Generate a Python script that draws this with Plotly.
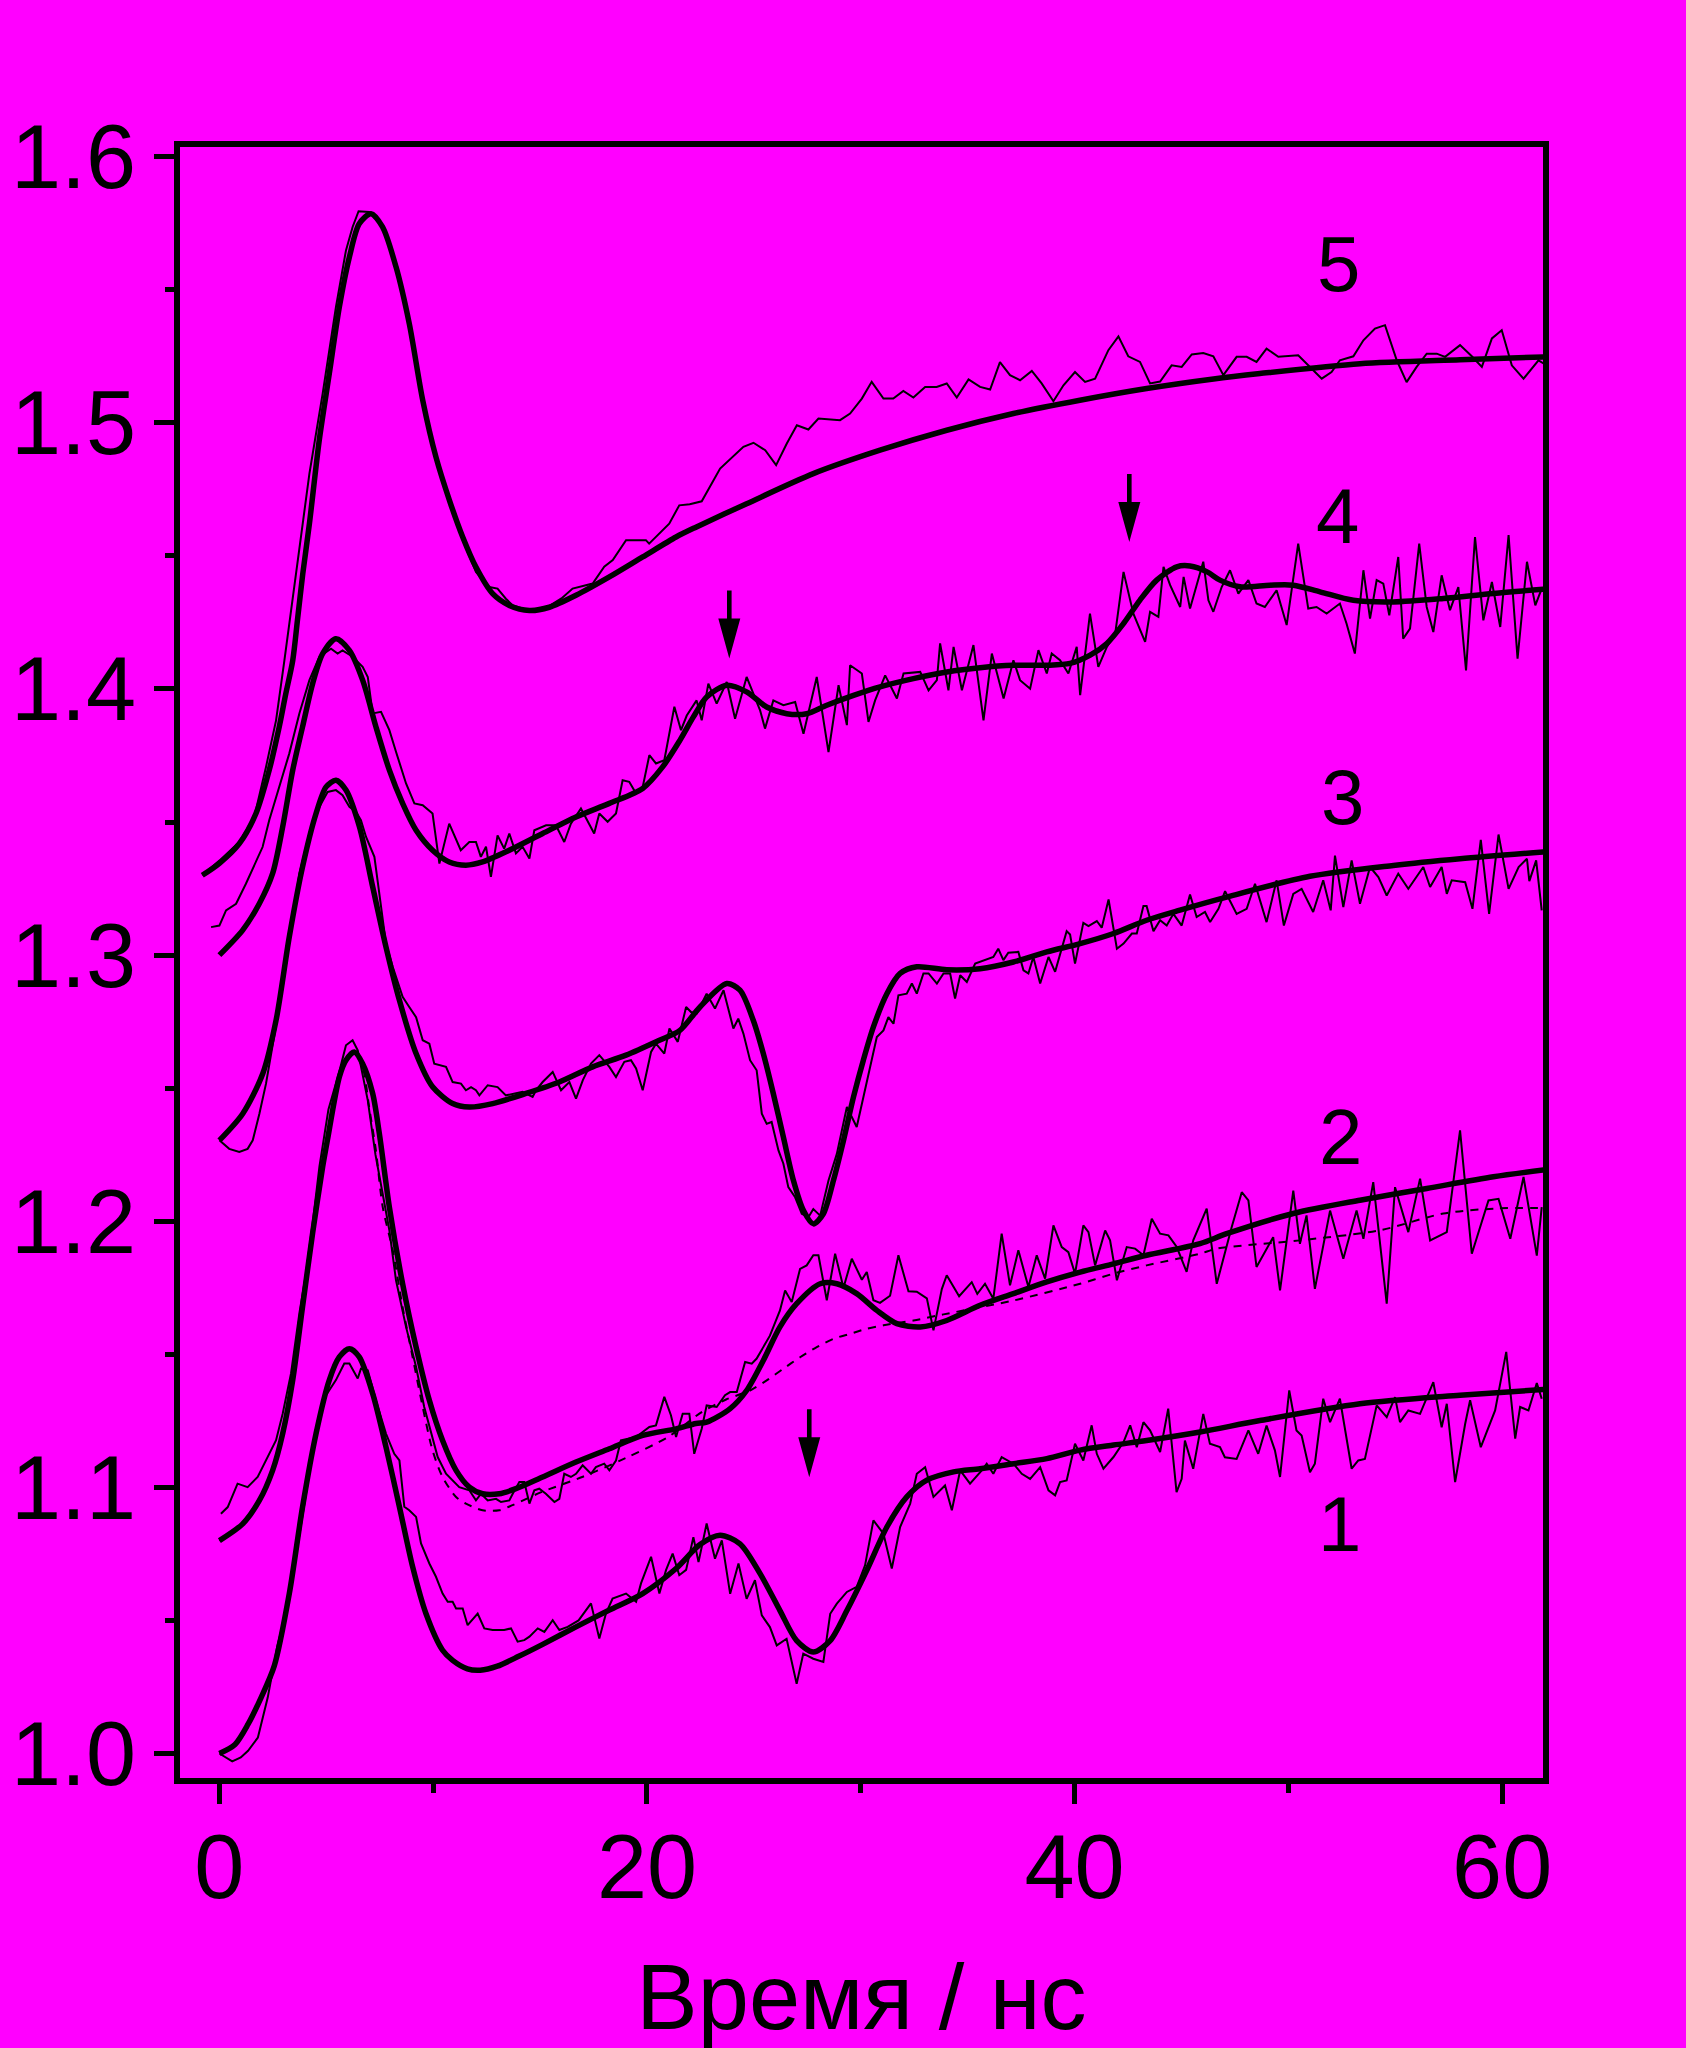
import plotly.graph_objects as go

# ---------------- data ----------------
# curve 5
c5_fit_x = [-0.8, 0.0, 0.93, 1.71, 2.33, 2.80, 3.10, 3.43, 3.65, 3.90, 4.21, 4.67, 5.14, 5.61, 6.08, 6.54, 7.09, 7.63, 8.26, 8.88,
            9.51, 10.13, 10.76, 11.38, 12.00, 12.78, 13.56, 14.50, 15.43, 16.68, 18.24, 19.80, 21.36, 22.29, 24.66, 27.78,
            30.90, 34.02, 37.14, 40.25, 43.37, 46.50, 48.67, 53.35, 58.03, 62.0]
c5_fit_y = [1.330, 1.3345, 1.3419, 1.3532, 1.3695, 1.3858, 1.3980, 1.4107, 1.4258, 1.4433, 1.4621, 1.4934, 1.5185, 1.5435,
            1.5623, 1.5748, 1.5786, 1.5736, 1.5586, 1.5373, 1.5085, 1.4871, 1.4709, 1.4571, 1.4458, 1.4358, 1.4314, 1.4295,
            1.4307, 1.4352, 1.4421, 1.4496, 1.4571, 1.4608, 1.4696, 1.4809, 1.4897, 1.4972, 1.5035, 1.5085, 1.5129, 1.5165,
            1.5185, 1.5222, 1.5237, 1.5248]
c5_dat_x = [-0.8, 0.0, 0.93, 1.63, 2.18, 2.65, 3.04, 3.58, 4.21, 4.83, 5.45, 5.92, 6.23, 6.51, 7.00, 7.63, 8.26, 8.88, 9.51,
            10.13, 10.76, 11.38, 12.00, 12.62, 13.01, 13.40, 13.72, 14.50, 15.40, 16.00, 16.52, 17.46, 18.00, 18.40, 19.02,
            19.95, 20.10, 21.04, 21.51, 22.00, 22.56, 23.42, 24.51, 24.98, 25.53, 26.04, 26.54, 27.01, 27.55, 28.02, 29.03,
            29.50, 30.05, 30.51, 31.06, 31.52, 31.99, 32.46, 33.01, 33.55, 34.02, 34.49, 35.04, 35.58, 36.05, 36.51, 36.98,
            37.45, 38.00, 38.46, 39.01, 39.48, 40.02, 40.49, 40.96, 41.58, 42.05, 42.51, 43.06, 43.53, 44.00, 44.54, 45.01,
            45.48, 46.02, 46.49, 46.96, 47.58, 48.05, 48.51, 48.98, 49.53, 50.46, 51.01, 51.56, 52.02, 52.41, 53.04, 53.51,
            54.05, 54.52, 55.07, 55.53, 56.00, 56.47, 56.94, 57.33, 58.03, 58.58, 59.05, 59.52, 59.98, 60.45, 61.00, 61.70,
            62.0]
c5_dat_y = [1.330, 1.3355, 1.3425, 1.3519, 1.3707, 1.3882, 1.4107, 1.4433, 1.4809, 1.5110, 1.5435, 1.5648, 1.5736, 1.5795,
            1.5792, 1.5740, 1.5590, 1.5380, 1.5090, 1.4880, 1.4700, 1.4560, 1.4440, 1.4383, 1.4377, 1.4339, 1.4314, 1.4295,
            1.4310, 1.4340, 1.4377, 1.4396, 1.4459, 1.4484, 1.4559, 1.4559, 1.4546, 1.4621, 1.4690, 1.4694, 1.4705, 1.4828,
            1.4910, 1.4925, 1.4897, 1.4841, 1.4922, 1.4991, 1.4975, 1.5016, 1.5010, 1.5035, 1.5091, 1.5154, 1.5091, 1.5091,
            1.5120, 1.5095, 1.5135, 1.5135, 1.5148, 1.5095, 1.5163, 1.5135, 1.5125, 1.5228, 1.5179, 1.5160, 1.5195, 1.5148,
            1.5081, 1.5141, 1.5191, 1.5154, 1.5166, 1.5273, 1.5325, 1.5250, 1.5229, 1.5148, 1.5155, 1.5216, 1.5210, 1.5257,
            1.5262, 1.5250, 1.5179, 1.5248, 1.5248, 1.5229, 1.5279, 1.5248, 1.5254, 1.5210, 1.5166, 1.5191, 1.5235, 1.5250,
            1.5310, 1.5354, 1.5367, 1.5235, 1.5153, 1.5210, 1.5260, 1.5260, 1.5248, 1.5292, 1.5250, 1.5210, 1.5317, 1.5348,
            1.5216, 1.5166, 1.5235, 1.5220]

# curve 4
c4_fit_x = [0.0, 1.09, 1.87, 2.49, 2.96, 3.43, 3.89, 4.36, 4.83, 5.45, 6.08, 6.70, 7.32, 7.95, 8.57, 9.20, 9.97, 10.75, 11.53,
            12.31, 13.56, 15.12, 16.68, 18.24, 19.80, 20.73, 21.54, 22.17, 22.79, 23.73, 24.66, 25.60, 26.54, 27.47, 28.41,
            29.66, 30.90, 32.46, 34.02, 35.58, 37.14, 38.70, 39.79, 40.73, 41.51, 42.29, 43.06, 43.84, 44.78, 45.40, 46.20,
            46.80, 47.74, 49.14, 50.23, 51.48, 53.04, 54.91, 57.25, 59.59, 62.0]
c4_fit_y = [1.300, 1.3094, 1.3194, 1.3307, 1.3482, 1.3695, 1.3858, 1.4020, 1.4133, 1.4189, 1.4145, 1.4033, 1.3858, 1.3695,
            1.3570, 1.3469, 1.3394, 1.3350, 1.3338, 1.3350, 1.3394, 1.3457, 1.3519, 1.3570, 1.3626, 1.3707, 1.3807, 1.3895,
            1.3970, 1.4014, 1.3989, 1.3932, 1.3907, 1.3907, 1.3939, 1.3976, 1.4008, 1.4039, 1.4064, 1.4080, 1.4089, 1.4089,
            1.4096, 1.4127, 1.4171, 1.4246, 1.4334, 1.4409, 1.4459, 1.4462, 1.4440, 1.4409, 1.4384, 1.4390, 1.4390, 1.4365,
            1.4333, 1.4327, 1.4340, 1.4359, 1.4375]
c4_dat_x = [-0.39, 0.0, 0.31, 0.78, 1.24, 1.63, 2.02, 2.33, 2.80, 3.27, 3.74, 4.21, 4.68, 5.22, 5.53, 5.76, 6.23, 6.70, 6.94,
            7.17, 7.56, 7.95, 8.26, 8.73, 9.12, 9.51, 9.97, 10.29, 10.75, 11.29, 11.69, 12.00, 12.23, 12.47, 12.70, 13.01,
            13.32, 13.56, 13.87, 14.18, 14.50, 14.73, 15.28, 15.74, 16.13, 16.44, 16.91, 17.53, 17.77, 18.16, 18.55, 18.86,
            19.17, 19.49, 19.80, 20.11, 20.42, 20.81, 21.28, 21.59, 21.86, 22.32, 22.56, 22.87, 23.26, 23.73, 24.12, 24.66,
            25.29, 25.52, 25.91, 26.38, 26.93, 27.32, 27.94, 28.49, 28.96, 29.35, 29.50, 30.05, 30.36, 30.67, 31.14, 31.69,
            32.00, 32.78, 33.17, 33.56, 33.71, 34.10, 34.34, 34.73, 35.27, 35.74, 36.13, 36.68, 37.14, 37.45, 37.92, 38.31,
            38.70, 38.93, 39.32, 39.71, 40.10, 40.26, 40.72, 41.11, 41.51, 41.90, 42.29, 42.75, 43.30, 43.53, 43.92, 44.16,
            44.47, 44.94, 45.10, 45.40, 46.02, 46.26, 46.49, 46.88, 47.27, 47.66, 48.13, 48.51, 48.90, 49.45, 49.92, 50.46,
            50.93, 51.32, 51.79, 52.41, 52.72, 53.11, 53.51, 53.82, 54.13, 54.44, 54.72, 55.14, 55.37, 55.69, 56.12, 56.47,
            56.78, 57.17, 57.56, 57.95, 58.31, 58.73, 59.12, 59.52, 59.91, 60.30, 60.72, 61.16, 61.55, 61.85]
c4_dat_y = [1.3105, 1.3111, 1.3168, 1.3193, 1.3268, 1.3337, 1.3406, 1.3507, 1.3632, 1.3758, 1.3908, 1.4033, 1.4121, 1.4151,
            1.4133, 1.4145, 1.4121, 1.4083, 1.4045, 1.3908, 1.3914, 1.3845, 1.3764, 1.3645, 1.3570, 1.3563, 1.3532, 1.3344,
            1.3494, 1.3394, 1.3425, 1.3425, 1.3369, 1.3407, 1.3294, 1.3450, 1.3400, 1.3457, 1.3382, 1.3407, 1.3363, 1.3469,
            1.3488, 1.3488, 1.3425, 1.3494, 1.3551, 1.3457, 1.3532, 1.3501, 1.3532, 1.3657, 1.3651, 1.3607, 1.3632, 1.3751,
            1.3720, 1.3732, 1.3933, 1.3845, 1.3900, 1.3957, 1.3882, 1.4020, 1.3945, 1.4026, 1.3888, 1.4045, 1.3920, 1.3851,
            1.3957, 1.3939, 1.3951, 1.3832, 1.4045, 1.3763, 1.4014, 1.3864, 1.4089, 1.4058, 1.3876, 1.3957, 1.4051, 1.3964,
            1.4058, 1.4064, 1.3995, 1.4033, 1.4171, 1.3995, 1.4158, 1.3995, 1.4165, 1.3882, 1.4133, 1.3964, 1.4108, 1.4033,
            1.4001, 1.4146, 1.4058, 1.4133, 1.4108, 1.4058, 1.4158, 1.3977, 1.4283, 1.4083, 1.4158, 1.4208, 1.4440, 1.4283,
            1.4177, 1.4290, 1.4271, 1.4459, 1.4390, 1.4308, 1.4421, 1.4302, 1.4478, 1.4333, 1.4290, 1.4383, 1.4446, 1.4358,
            1.4409, 1.4321, 1.4308, 1.4371, 1.4240, 1.4546, 1.4302, 1.4308, 1.4283, 1.4321, 1.4246, 1.4133, 1.4446, 1.4264,
            1.4409, 1.4396, 1.4277, 1.4496, 1.4189, 1.4227, 1.4546, 1.4308, 1.4214, 1.4427, 1.4296, 1.4383, 1.4070, 1.4571,
            1.4258, 1.4402, 1.4233, 1.4578, 1.4114, 1.4478, 1.4314, 1.4377]

# curve 3
c3_fit_x = [0.0, 1.09, 2.03, 2.65, 3.27, 3.89, 4.52, 4.99, 5.45, 5.92, 6.55, 7.17, 7.79, 8.42, 9.20, 9.97, 10.91, 11.69, 12.78,
            14.34, 15.90, 17.46, 19.02, 20.58, 21.54, 22.48, 23.73, 24.35, 24.97, 25.44, 25.91, 26.38, 26.85, 27.32, 27.78,
            28.25, 28.72, 29.19, 29.66, 30.12, 30.59, 31.22, 31.84, 32.62, 34.02, 35.58, 37.14, 38.70, 40.26, 41.82, 43.37,
            44.93, 47.11, 51.01, 54.91, 58.03, 62.0]
c3_fit_y = [1.2304, 1.2404, 1.2555, 1.2755, 1.3069, 1.3332, 1.3532, 1.3632, 1.3657, 1.3620, 1.3482, 1.3256, 1.3031, 1.2830,
            1.2630, 1.2505, 1.2442, 1.2429, 1.2442, 1.2480, 1.2523, 1.2580, 1.2624, 1.2680, 1.2717, 1.2805, 1.2893, 1.2868,
            1.2755, 1.2630, 1.2479, 1.2316, 1.2153, 1.2040, 1.1990, 1.2028, 1.2153, 1.2303, 1.2467, 1.2605, 1.2730, 1.2855,
            1.2931, 1.2956, 1.2945, 1.2949, 1.2974, 1.3012, 1.3043, 1.3081, 1.3131, 1.3169, 1.3218, 1.3296, 1.3337, 1.3362,
            1.3388]
c3_dat_x = [0.0, 0.46, 0.93, 1.32, 1.56, 1.87, 2.18, 2.49, 2.96, 3.35, 3.74, 4.21, 4.68, 5.06, 5.45, 5.76, 6.08, 6.39, 6.62,
            6.86, 7.25, 7.48, 7.79, 8.11, 8.57, 8.88, 9.20, 9.51, 9.82, 10.05, 10.60, 10.91, 11.30, 11.53, 11.77, 12.00,
            12.16, 12.55, 13.01, 13.40, 13.87, 14.18, 14.65, 14.81, 15.12, 15.59, 15.98, 16.37, 16.68, 17.00, 17.38, 17.77,
            18.24, 18.55, 18.94, 19.25, 19.49, 19.80, 20.19, 20.42, 20.81, 21.05, 21.44, 21.83, 22.06, 22.32, 22.79, 23.18,
            23.58, 24.04, 24.27, 24.51, 24.82, 25.13, 25.37, 25.60, 25.83, 26.15, 26.38, 26.61, 26.93, 27.24, 27.55, 27.78,
            28.10, 28.49, 28.88, 29.35, 29.81, 30.28, 30.75, 31.06, 31.29, 31.53, 31.76, 32.15, 32.39, 32.62, 32.93, 33.17,
            33.56, 33.87, 34.18, 34.41, 34.65, 34.96, 35.35, 36.20, 36.43, 36.67, 36.90, 37.37, 37.61, 37.84, 38.07, 38.39,
            38.78, 39.09, 39.32, 39.63, 39.79, 40.02, 40.41, 40.65, 41.04, 41.27, 41.59, 41.98, 42.29, 42.68, 42.91, 43.22,
            43.37, 43.69, 44.00, 44.31, 44.62, 45.01, 45.40, 45.71, 46.10, 46.34, 46.73, 47.04, 47.58, 48.05, 48.44, 48.98,
            49.45, 49.79, 50.23, 50.62, 51.16, 51.63, 51.98, 52.18, 52.57, 52.96, 53.35, 53.82, 54.21, 54.60, 55.14, 55.61,
            56.31, 56.63, 57.17, 57.41, 57.64, 58.27, 58.61, 59.00, 59.39, 59.83, 60.30, 60.77, 61.16, 61.27, 61.59, 61.85]
c3_dat_y = [1.2304, 1.2272, 1.2260, 1.2272, 1.2304, 1.2404, 1.2517, 1.2655, 1.2880, 1.3093, 1.3306, 1.3457, 1.3557, 1.3613,
            1.3620, 1.3601, 1.3557, 1.3538, 1.3507, 1.3444, 1.3369, 1.3231, 1.3043, 1.2955, 1.2843, 1.2805, 1.2767, 1.2680,
            1.2667, 1.2592, 1.2580, 1.2523, 1.2517, 1.2492, 1.2504, 1.2492, 1.2473, 1.2511, 1.2504, 1.2473, 1.2480, 1.2486,
            1.2467, 1.2492, 1.2523, 1.2561, 1.2492, 1.2523, 1.2461, 1.2530, 1.2592, 1.2624, 1.2580, 1.2542, 1.2599, 1.2605,
            1.2574, 1.2492, 1.2636, 1.2667, 1.2630, 1.2724, 1.2674, 1.2805, 1.2786, 1.2780, 1.2855, 1.2799, 1.2868, 1.2724,
            1.2761, 1.2705, 1.2605, 1.2567, 1.2404, 1.2366, 1.2373, 1.2266, 1.2216, 1.2128, 1.2090, 1.2028, 1.2015, 1.2046,
            1.2021, 1.2153, 1.2253, 1.2429, 1.2354, 1.2529, 1.2692, 1.2717, 1.2767, 1.2742, 1.2849, 1.2855, 1.2893, 1.2855,
            1.2931, 1.2931, 1.2893, 1.2931, 1.2931, 1.2837, 1.2924, 1.2899, 1.2968, 1.2993, 1.3024, 1.2981, 1.3009, 1.3012,
            1.2943, 1.2931, 1.2993, 1.2893, 1.2993, 1.2937, 1.3006, 1.3090, 1.3077, 1.2968, 1.3121, 1.3109, 1.3128, 1.3103,
            1.3209, 1.3024, 1.3043, 1.3081, 1.3081, 1.3184, 1.3184, 1.3090, 1.3131, 1.3111, 1.3155, 1.3111, 1.3228, 1.3143,
            1.3162, 1.3124, 1.3174, 1.3240, 1.3155, 1.3174, 1.3268, 1.3124, 1.3281, 1.3111, 1.3230, 1.3249, 1.3162, 1.3281,
            1.3168, 1.3374, 1.3180, 1.3356, 1.3193, 1.3331, 1.3293, 1.3224, 1.3306, 1.3249, 1.3331, 1.3256, 1.3331, 1.3230,
            1.3281, 1.3274, 1.3174, 1.3433, 1.3155, 1.3453, 1.3249, 1.3331, 1.3362, 1.3278, 1.3356, 1.3168]

# curve 2
c2_fit_x = [0.0, 1.09, 1.87, 2.49, 2.96, 3.43, 3.89, 4.36, 4.83, 5.05, 5.61, 5.92, 6.31, 6.70, 7.17, 7.48, 7.95, 8.57, 9.20,
            9.82, 10.44, 11.07, 11.69, 12.31, 13.09, 13.87, 15.12, 16.68, 18.24, 19.80, 21.36, 22.29, 22.79, 23.89, 24.66,
            25.44, 26.22, 27.00, 28.10, 28.88, 29.81, 30.75, 31.69, 32.78, 34.02, 35.58, 37.14, 38.70, 40.26, 41.82, 43.37,
            45.87, 47.11, 50.23, 53.35, 56.47, 59.59, 62.0]
c2_fit_y = [1.0800, 1.0863, 1.0951, 1.1064, 1.1202, 1.1403, 1.1679, 1.1955, 1.2204, 1.2304, 1.2542, 1.2605, 1.2636, 1.2592,
            1.2480, 1.2330, 1.2053, 1.1765, 1.1527, 1.1327, 1.1176, 1.1064, 1.1001, 1.0976, 1.0976, 1.0995, 1.1039, 1.1095,
            1.1145, 1.1195, 1.1220, 1.1240, 1.1245, 1.1296, 1.1364, 1.1477, 1.1603, 1.1690, 1.1765, 1.1765, 1.1728, 1.1665,
            1.1615, 1.1603, 1.1627, 1.1684, 1.1728, 1.1772, 1.1809, 1.1840, 1.1872, 1.1916, 1.1953, 1.2029, 1.2079, 1.2123,
            1.2167, 1.2193]
c2_alt_x = [0.0, 1.09, 1.87, 2.49, 2.96, 3.43, 3.89, 4.36, 4.83, 5.05, 5.61, 5.92, 6.31, 6.70, 7.00, 7.32, 7.64, 8.11, 8.57,
            9.04, 9.51, 9.97, 10.44, 11.07, 11.53, 12.31, 13.09, 13.71, 15.0, 17.0, 19.0, 21.0, 22.56, 23.70, 24.82, 25.60,
            26.38, 27.16, 27.94, 28.72, 29.50, 30.28, 31.06, 32.46, 33.87, 37.14, 40.26, 41.82, 43.37, 45.87, 46.65, 50.54,
            54.28, 57.25, 59.75, 62.0]
c2_alt_y = [1.0800, 1.0863, 1.0951, 1.1064, 1.1202, 1.1403, 1.1679, 1.1955, 1.2204, 1.2304, 1.2542, 1.2605, 1.2636, 1.2580,
            1.2430, 1.2266, 1.2053, 1.1890, 1.1677, 1.1489, 1.1302, 1.1139, 1.1039, 1.0964, 1.0939, 1.0914, 1.0914, 1.0933,
            1.0980, 1.1040, 1.1110, 1.1190, 1.1283, 1.1330, 1.1364, 1.1402, 1.1446, 1.1489, 1.1527, 1.1558, 1.1577, 1.1596,
            1.1609, 1.1627, 1.1650, 1.1702, 1.1765, 1.1803, 1.1834, 1.1878, 1.1897, 1.1928, 1.1966, 1.2029, 1.2048, 1.2050]
c2_dat_x = [0.07, 0.39, 0.85, 1.32, 1.79, 2.18, 2.65, 2.96, 3.35, 3.74, 4.05, 4.36, 4.68, 5.10, 5.60, 5.92, 6.23, 6.47, 6.94,
            7.30, 7.95, 8.26, 8.73, 9.20, 9.58, 10.21, 10.60, 11.22, 11.69, 12.00, 12.24, 12.55, 12.94, 13.17, 13.56, 13.72,
            14.03, 14.26, 14.50, 14.73, 14.96, 15.27, 15.67, 15.90, 16.13, 16.44, 16.68, 16.99, 17.38, 17.61, 18.00, 18.24,
            18.55, 18.78, 19.10, 19.49, 20.11, 20.42, 20.81, 21.12, 21.36, 21.67, 21.98, 22.21, 22.56, 22.79, 23.26, 23.65,
            23.89, 24.20, 24.59, 24.90, 25.13, 25.75, 26.22, 26.46, 26.77, 27.16, 27.47, 27.78, 28.02, 28.41, 28.80, 29.19,
            29.58, 30.05, 30.28, 30.59, 30.90, 31.37, 31.76, 32.23, 32.62, 33.09, 33.40, 33.79, 34.02, 34.60, 35.19, 35.45,
            35.81, 36.20, 36.59, 36.98, 37.37, 37.84, 38.23, 38.62, 39.01, 39.40, 39.71, 40.02, 40.41, 40.65, 40.96, 41.43,
            41.66, 41.98, 42.44, 42.83, 43.22, 43.61, 44.00, 44.39, 44.78, 45.24, 45.55, 46.18, 46.65, 47.35, 47.82, 48.13,
            48.51, 49.29, 49.61, 50.23, 50.54, 50.85, 51.24, 51.95, 52.57, 53.19, 53.51, 53.97, 54.60, 54.99, 55.61, 56.16,
            56.63, 57.41, 58.03, 58.58, 59.36, 59.83, 60.38, 61.00, 61.62, 61.85]
c2_dat_y = [1.0901, 1.0926, 1.1014, 1.1001, 1.1039, 1.1102, 1.1177, 1.1277, 1.1428, 1.1654, 1.1804, 1.1992, 1.2206, 1.2420,
            1.2560, 1.2661, 1.2680, 1.2642, 1.2454, 1.2250, 1.1966, 1.1778, 1.1603, 1.1452, 1.1302, 1.1114, 1.1051, 1.1001,
            1.0989, 1.0951, 1.0976, 1.0951, 1.0957, 1.0945, 1.0951, 1.0976, 1.1020, 1.1020, 1.0939, 1.0989, 1.0995, 1.0976,
            1.0945, 1.0957, 1.1051, 1.1039, 1.1051, 1.1083, 1.1051, 1.1076, 1.1089, 1.1064, 1.1101, 1.1177, 1.1183, 1.1189,
            1.1227, 1.1233, 1.1340, 1.1271, 1.1189, 1.1277, 1.1277, 1.1126, 1.1220, 1.1308, 1.1302, 1.1346, 1.1358, 1.1358,
            1.1471, 1.1465, 1.1484, 1.1570, 1.1665, 1.1740, 1.1696, 1.1821, 1.1834, 1.1872, 1.1872, 1.1703, 1.1878, 1.1750,
            1.1859, 1.1780, 1.1809, 1.1703, 1.1693, 1.1720, 1.1872, 1.1737, 1.1735, 1.1710, 1.1590, 1.1745, 1.1797, 1.1718,
            1.1771, 1.1727, 1.1765, 1.1709, 1.1953, 1.1759, 1.1891, 1.1753, 1.1872, 1.1784, 1.1984, 1.1903, 1.1884, 1.1803,
            1.1984, 1.1959, 1.1834, 1.1965, 1.1928, 1.1778, 1.1903, 1.1897, 1.1872, 1.2009, 1.1953, 1.1947, 1.1903, 1.1810,
            1.1928, 1.2047, 1.1765, 1.1978, 1.2109, 1.2078, 1.1828, 1.1940, 1.1740, 1.2115, 1.1915, 1.2022, 1.1746, 1.2040,
            1.1859, 1.2040, 1.1934, 1.2147, 1.1690, 1.2128, 1.1959, 1.2160, 1.1928, 1.1959, 1.2341, 1.1878, 1.2078, 1.2084,
            1.1934, 1.2166, 1.1871, 1.2053]

# curve 1
c1_fit_x = [0.0, 0.73, 1.34, 1.95, 2.57, 3.27, 3.89, 4.52, 5.14, 5.61, 6.08, 6.54, 7.17, 7.79, 8.42, 9.04, 9.66, 10.44, 10.91,
            11.60, 12.20, 13.00, 14.00, 15.12, 16.68, 18.24, 19.80, 21.36, 22.48, 23.42, 24.35, 25.29, 26.22, 27.00, 27.78,
            28.57, 29.35, 30.28, 31.22, 32.15, 33.09, 34.34, 35.58, 37.14, 38.70, 40.26, 41.82, 43.37, 45.87, 48.67, 53.35,
            58.03, 62.0]
c1_fit_y = [1.0000, 1.0034, 1.0110, 1.0210, 1.0330, 1.0601, 1.0927, 1.1202, 1.1403, 1.1490, 1.1521, 1.1490, 1.1352, 1.1152,
            1.0927, 1.0701, 1.0526, 1.0388, 1.0350, 1.0318, 1.0313, 1.0328, 1.0365, 1.0410, 1.0476, 1.0539, 1.0601, 1.0695,
            1.0785, 1.0820, 1.0788, 1.0676, 1.0537, 1.0424, 1.0381, 1.0424, 1.0537, 1.0688, 1.0851, 1.0964, 1.1027, 1.1058,
            1.1070, 1.1089, 1.1108, 1.1140, 1.1159, 1.1176, 1.1208, 1.1251, 1.1314, 1.1346, 1.1368]
c1_dat_x = [0.0, 0.6, 1.0, 1.34, 1.8, 2.26, 2.7, 3.2, 3.6, 4.0, 4.4, 4.83, 5.45, 5.84, 6.08, 6.47, 6.62, 6.94, 7.32, 7.79, 8.18,
            8.42, 8.65, 8.88, 9.20, 9.43, 9.82, 10.13, 10.44, 10.68, 10.91, 11.07, 11.38, 11.61, 12.08, 12.39, 12.78, 13.32,
            13.64, 13.95, 14.26, 14.50, 14.89, 15.20, 15.59, 15.90, 16.29, 16.80, 17.38, 17.77, 18.08, 18.39, 19.02, 19.49,
            19.72, 20.19, 20.58, 20.89, 21.20, 21.51, 21.83, 22.17, 22.41, 22.79, 23.18, 23.50, 23.89, 24.28, 24.66, 25.05,
            25.37, 25.75, 26.07, 26.53, 27.00, 27.31, 27.78, 28.25, 28.57, 28.88, 29.35, 29.81, 30.20, 30.59, 31.06, 31.45,
            31.84, 32.31, 32.62, 33.01, 33.40, 33.94, 34.26, 34.65, 35.11, 35.66, 35.89, 36.20, 36.59, 37.14, 37.53, 37.92,
            38.39, 38.78, 39.09, 39.32, 39.63, 40.02, 40.41, 40.80, 41.04, 41.35, 41.82, 42.29, 42.60, 42.91, 43.22, 43.53,
            44.00, 44.38, 44.77, 45.01, 45.16, 45.55, 46.02, 46.33, 46.80, 47.03, 47.58, 48.13, 48.59, 48.98, 49.37, 49.61,
            50.04, 50.38, 50.62, 51.01, 51.24, 51.63, 51.95, 52.41, 52.96, 53.27, 53.58, 54.13, 54.60, 54.99, 55.22, 55.61,
            56.16, 56.78, 57.17, 57.41, 57.80, 58.27, 58.50, 59.00, 59.67, 60.19, 60.61, 60.84, 61.23, 61.62, 61.85]
c1_dat_y = [1.0000, 0.9970, 0.9985, 1.0010, 1.0060, 1.0210, 1.0400, 1.0560, 1.0750, 1.0950, 1.1150, 1.1327, 1.1403, 1.1465,
            1.1465, 1.1409, 1.1446, 1.1440, 1.1327, 1.1202, 1.1126, 1.1101, 1.0927, 1.0914, 1.0889, 1.0789, 1.0714, 1.0664,
            1.0601, 1.0570, 1.0570, 1.0545, 1.0545, 1.0482, 1.0526, 1.0470, 1.0464, 1.0464, 1.0470, 1.0420, 1.0426, 1.0439,
            1.0470, 1.0457, 1.0501, 1.0464, 1.0476, 1.0500, 1.0564, 1.0432, 1.0526, 1.0582, 1.0601, 1.0570, 1.0639, 1.0739,
            1.0601, 1.0689, 1.0751, 1.0670, 1.0690, 1.0813, 1.0719, 1.0864, 1.0732, 1.0801, 1.0600, 1.0714, 1.0581, 1.0651,
            1.0519, 1.0475, 1.0406, 1.0431, 1.0262, 1.0375, 1.0356, 1.0344, 1.0525, 1.0563, 1.0607, 1.0626, 1.0707, 1.0876,
            1.0826, 1.0695, 1.0851, 1.0939, 1.1051, 1.1076, 1.0964, 1.1007, 1.0914, 1.1064, 1.1014, 1.1064, 1.1089, 1.1051,
            1.1114, 1.1089, 1.1051, 1.1032, 1.1076, 1.0989, 1.0970, 1.1020, 1.1026, 1.1164, 1.1101, 1.1233, 1.1126, 1.1070,
            1.1114, 1.1170, 1.1233, 1.1151, 1.1245, 1.1214, 1.1133, 1.1296, 1.0982, 1.1032, 1.1176, 1.1070, 1.1276, 1.1164,
            1.1151, 1.1113, 1.1107, 1.1214, 1.1126, 1.1232, 1.1139, 1.1039, 1.1364, 1.1214, 1.1195, 1.1057, 1.1089, 1.1333,
            1.1245, 1.1333, 1.1070, 1.1101, 1.1107, 1.1308, 1.1264, 1.1339, 1.1245, 1.1289, 1.1276, 1.1395, 1.1226, 1.1314,
            1.1020, 1.1239, 1.1327, 1.1151, 1.1289, 1.1509, 1.1183, 1.1302, 1.1289, 1.1392, 1.1333]

# curve labels and arrow markers
label_text = ["5", "4", "3", "2", "1"]
label_x = [52.33, 52.29, 52.52, 52.44, 52.41]
label_y = [1.5598, 1.4649, 1.3594, 1.2315, 1.0863]
arrow_x = [23.85, 42.56, 27.59]
arrow_tip_y = [1.4114, 1.4552, 1.1038]

x_ticks = [0, 20, 40, 60]
y_ticks = [1.0, 1.1, 1.2, 1.3, 1.4, 1.5, 1.6]
x_title = "Время / нс"

# ---------------- figure ----------------
BG = "#FF00FF"
FONT = "Liberation Sans, Arial, sans-serif"
THICK = 5.5
THIN = 2

fig = go.Figure()

def add_line(x, y, width, shape="linear", dash=None):
    fig.add_trace(go.Scatter(x=x, y=y, mode="lines",
                             line=dict(color="black", width=width, shape=shape,
                                       smoothing=0.8 if shape == "spline" else None, dash=dash),
                             hoverinfo="skip", showlegend=False))

for dx, dy in [(c5_dat_x, c5_dat_y), (c4_dat_x, c4_dat_y), (c3_dat_x, c3_dat_y),
               (c2_dat_x, c2_dat_y), (c1_dat_x, c1_dat_y)]:
    add_line(dx, dy, THIN)

add_line(c2_alt_x, c2_alt_y, THIN, shape="spline", dash="8px,7px")

for fx, fy in [(c5_fit_x, c5_fit_y), (c4_fit_x, c4_fit_y), (c3_fit_x, c3_fit_y),
               (c2_fit_x, c2_fit_y), (c1_fit_x, c1_fit_y)]:
    add_line(fx, fy, THICK, shape="spline")

for t, lx, ly in zip(label_text, label_x, label_y):
    fig.add_annotation(x=lx, y=ly, text=t, showarrow=False, xanchor="center", yanchor="middle",
                       font=dict(size=78, color="black", family=FONT))

arrow_path = "M0,0 L-11,40 L-2.3,40 L-2.3,68 L2.3,68 L2.3,40 L11,40 Z"
for ax_, ay_ in zip(arrow_x, arrow_tip_y):
    fig.add_shape(type="path", xref="x", yref="y", xsizemode="pixel", ysizemode="pixel",
                  xanchor=ax_, yanchor=ay_, path=arrow_path,
                  fillcolor="black", line=dict(width=0))

axis_common = dict(showline=True, linewidth=6, linecolor="black", mirror=True,
                   ticks="outside", ticklen=20, tickwidth=5, tickcolor="black",
                   showgrid=False, zeroline=False,
                   tickfont=dict(size=90, color="black", family=FONT))

fig.update_xaxes(range=[-1.843, 61.91], tickvals=x_ticks, ticktext=[str(v) for v in x_ticks],
                 ticklabelstandoff=-14,
                 minor=dict(tickvals=[10, 30, 50], ticklen=9, tickwidth=5, tickcolor="black", ticks="outside"),
                 title=dict(text=x_title, font=dict(size=92, color="black", family=FONT), standoff=52),
                 **axis_common)
fig.update_yaxes(range=[0.99079, 1.60364], tickvals=y_ticks, ticktext=["%.1f" % v for v in y_ticks],
                 minor=dict(tickvals=[1.05, 1.15, 1.25, 1.35, 1.45, 1.55], ticklen=9, tickwidth=5,
                            tickcolor="black", ticks="outside"),
                 **axis_common)

fig.update_layout(width=1686, height=2048, autosize=False,
                  margin=dict(l=180, r=143, t=147, b=270, pad=0),
                  paper_bgcolor=BG, plot_bgcolor=BG, showlegend=False,
                  font=dict(family=FONT, color="black"))

page_fix = ("document.body.style.margin='0';document.body.style.padding='0';"
            "document.body.style.background='#FF00FF';document.documentElement.style.overflow='hidden';")
fig.write_html("out.html", post_script=page_fix, config={"displayModeBar": False, "staticPlot": True})
